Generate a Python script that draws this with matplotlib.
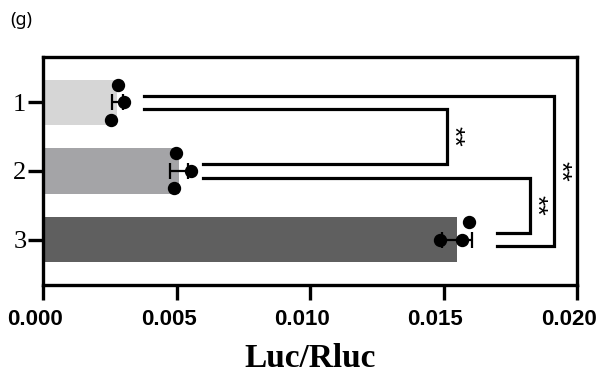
import matplotlib
matplotlib.use("Agg")
import matplotlib.pyplot as plt
import matplotlib.transforms as mtransforms
import numpy as np

# Data
groups = ["1", "2", "3"]
means = [0.00279, 0.00509, 0.01550]
errors = [0.00021, 0.00033, 0.00056]
replicates = [
    [0.00282, 0.00304, 0.00255],
    [0.00497, 0.00553, 0.00491],
    [0.01594, 0.01488, 0.01570],
]
bar_colors = ["#d6d6d6", "#a4a4a7", "#5f5f5f"]
xticks = [0.000, 0.005, 0.010, 0.015, 0.020]
xtick_labels = ["0.000", "0.005", "0.010", "0.015", "0.020"]
# Significance comparisons: (group a, group b, label)
comparisons = [(0, 1, "**"), (1, 2, "**"), (0, 2, "**")]

# Layout constants
jitter = [[-0.26, 0.0, 0.26], [-0.26, 0.0, 0.25], [-0.26, 0.0, 0.0]]
bracket_start = [0.0038, 0.0060, 0.0170]
bracket_x = [0.01513, 0.01824, 0.01914]

fig = plt.figure(figsize=(5.98, 3.73), dpi=100)
ax = fig.add_axes([43 / 598, 1 - 285 / 373, 534 / 598, 228 / 373])

y = np.arange(len(groups))
ax.barh(y, means, height=0.66, color=bar_colors, edgecolor="none", zorder=1)
ax.errorbar(means, y, xerr=errors, fmt="none", ecolor="black",
            elinewidth=1.6, capsize=5.8, capthick=1.6, zorder=2)
for i, pts in enumerate(replicates):
    ax.plot(pts, [i + j for j in jitter[i]], "o", color="black",
            markersize=8.6, zorder=3, clip_on=False)

# Significance brackets
lw = 2.3
for k, (a, b, lab) in enumerate(comparisons):
    if b - a == 1:
        ya, yb = a + 0.1, b - 0.1
    else:
        ya, yb = a - 0.1, b + 0.1
    xs = bracket_x[k]
    ax.plot([bracket_start[a], xs, xs, bracket_start[b]], [ya, ya, yb, yb],
            color="black", lw=lw, solid_joinstyle="miter", zorder=2)
    ax.text(xs + 0.00022, (ya + yb) / 2, lab, rotation=-90,
            ha="center", va="center", fontsize=19,
            family="Liberation Sans")

ax.set_xlim(0, 0.020)
ax.set_ylim(2.664, -0.664)
ax.set_yticks(y)
ax.set_yticklabels(groups, family="Liberation Serif", fontsize=19)
ax.set_xticks(xticks)
ax.set_xticklabels([])
# Tick labels sit slightly left of their ticks
label_trans = mtransforms.offset_copy(ax.get_xaxis_transform(), fig=fig,
                                      x=-8, y=-24, units="dots")
for xv, txt in zip(xticks, xtick_labels):
    ax.text(xv, 0, txt, transform=label_trans, ha="center", va="top",
            family="Liberation Sans", fontweight="bold", fontsize=16,
            clip_on=False)
ax.tick_params(axis="x", length=11, width=2.4, pad=6)
ax.tick_params(axis="y", length=11, width=2.4, pad=1)
for s in ax.spines.values():
    s.set_linewidth(2.4)

ax.text(0.5, -0.255, "Luc/Rluc", transform=ax.transAxes, ha="center",
        va="top", family="Liberation Serif", fontweight="bold", fontsize=24)

fig.text(10 / 598, 1 - 11 / 373, "(g)", ha="left", va="top",
         fontsize=13, family="Noto Sans")

fig.savefig("out.png", dpi=100)
